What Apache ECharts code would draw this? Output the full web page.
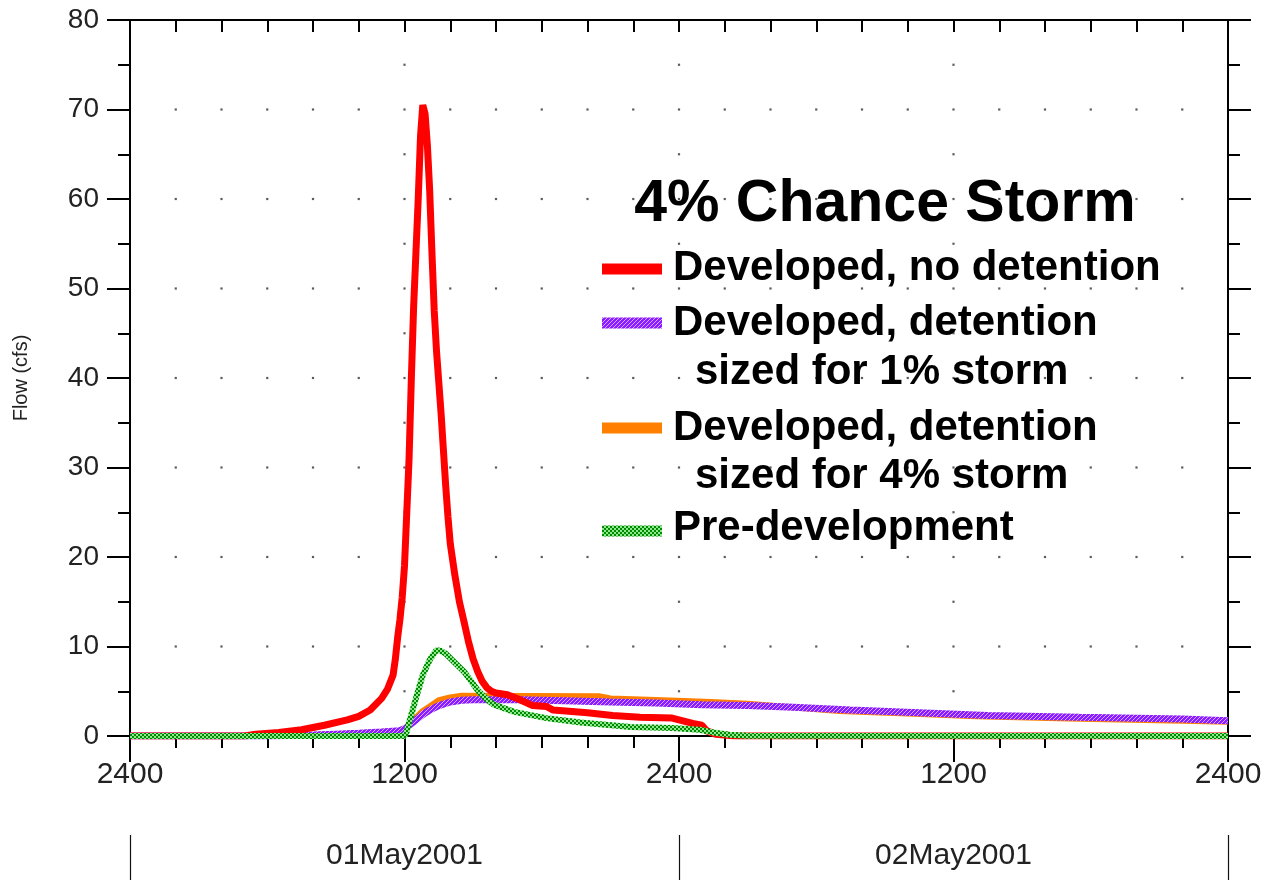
<!DOCTYPE html>
<html><head><meta charset="utf-8">
<script src="https://cdn.jsdelivr.net/npm/echarts@6/dist/echarts.min.js"></script>
<style>html,body{margin:0;padding:0;background:#fff}#c{width:1274px;height:880px}</style>
</head><body><div id="c"></div>
<script>
// ---------------- DATA ----------------
const chartTitle = '4% Chance Storm';
const yAxisName = 'Flow (cfs)';
const xTickLabels = ['2400', '1200', '2400', '1200', '2400'];   // at hours 0,12,24,36,48
const dateLabels = ['01May2001', '02May2001'];                   // centred on hours 12 and 36
const seriesNames = [
  'Developed, no detention',
  'Developed, detention sized for 1% storm',
  'Developed, detention sized for 4% storm',
  'Pre-development'
];
const legendLines = [
  ['Developed, no detention'],
  ['Developed, detention', 'sized for 1% storm'],
  ['Developed, detention', 'sized for 4% storm'],
  ['Pre-development']
];
// [hour since 2400 30Apr2001, flow cfs]
const redData = [
  [0,0],[5,0],[5.5,0.2],[6.5,0.4],[7.5,0.7],[8.5,1.2],[9.5,1.8],[10,2.2],[10.5,2.9],[11,4.2],
  [11.25,5.2],[11.5,6.8],[11.6,8.6],[11.7,11],[11.8,13],[11.9,15.5],[12,19],[12.1,25],[12.2,31],
  [12.3,40],[12.4,48],[12.5,54],[12.6,60],[12.7,67],[12.8,70.5],[12.9,69.5],[13,66],[13.1,61],
  [13.2,54],[13.3,47.5],[13.4,43],[13.5,39.5],[13.6,36],[13.7,32],[13.8,28],[13.9,24.5],[14,21.5],
  [14.2,18],[14.4,15],[14.6,12.8],[14.8,10.5],[15,8.6],[15.2,7.2],[15.4,6.1],[15.6,5.4],[15.8,5.0],
  [16,4.8],[16.5,4.6],[17,4.1],[17.6,3.4],[18.2,3.3],[18.5,2.9],[20,2.6],[21.1,2.3],[22.3,2.1],
  [23.7,2.0],[24,1.8],[24.6,1.4],[25,1.2],[25.2,0.6],[25.6,0.2],[26.5,0],[48,0]
];
const purpleData = [
  [0,0],[6,0],[8,0.1],[9,0.2],[10,0.3],[11,0.45],[11.8,0.6],[12,0.8],[12.4,1.6],[12.8,2.4],
  [13.1,2.9],[13.5,3.4],[14,3.8],[14.5,4.0],[15,4.05],[17,4.05],[19,3.95],[21,3.8],[23,3.7],
  [25,3.5],[27,3.4],[29,3.2],[31.5,2.9],[34.5,2.6],[37.5,2.3],[41.5,2.1],[46,1.9],[48,1.7]
];
const orangeData = [
  [0,0],[6,0],[8,0.1],[9,0.2],[10,0.3],[11,0.45],[11.8,0.6],[12,0.8],[12.4,1.8],[12.8,2.8],
  [13.1,3.3],[13.5,4.0],[14,4.3],[14.5,4.5],[20.5,4.45],[21,4.2],[23.3,4.0],[25.4,3.8],[27,3.6],
  [28.5,3.3],[31,2.8],[34,2.5],[37,2.2],[41,1.95],[46,1.7],[48,1.6]
];
const greenData = [
  [0,0],[12,0],[12.1,0.5],[12.2,1.5],[12.4,3.3],[12.6,5.1],[12.8,6.8],[13.1,8.5],[13.4,9.6],
  [13.6,9.5],[13.8,9.2],[14.2,8.2],[14.6,7.2],[15.2,5.1],[15.6,4.1],[15.9,3.5],[16.8,2.7],
  [18.2,2.0],[19.7,1.5],[21.9,1.0],[23.7,0.9],[24.9,0.7],[25.5,0.4],[26.2,0.15],[27,0.02],[48,0]
];

// ---------------- STYLE ----------------
const FONT = '"Liberation Sans", Arial, sans-serif';
function makePattern(kind) {
  const c = document.createElement('canvas');
  c.width = 4; c.height = 4;
  const g = c.getContext('2d');
  for (let x = 0; x < 4; x++) for (let y = 0; y < 4; y++) {
    if (kind === 'hatch') g.fillStyle = ((x + y) % 4 === 0) ? '#d4a8ff' : '#8a1cff';
    else g.fillStyle = (((x >> 1) + (y >> 1)) % 2 === 0) ? '#008a00' : '#8fe88f';
    g.fillRect(x, y, 1, 1);
  }
  return { image: c, repeat: 'repeat' };
}
const purplePat = makePattern('hatch');
const greenPat = makePattern('check');
const sampleFill = ['#ff0000', purplePat, '#ff8000', greenPat];

// dot grid derived from the axis tick intervals
const gridDots = [];
for (let h = 2; h < 48; h += 2) for (let v = 10; v < 80; v += 10) gridDots.push([h, v]);
for (let h = 12; h < 48; h += 12) for (let v = 5; v < 80; v += 10) gridDots.push([h, v]);

const chart = echarts.init(document.getElementById('c'), null, { renderer: 'canvas' });

const axisLineStyle = { color: '#000', width: 2 };
const legendGraphics = [];
legendGraphics.push({
  type: 'text', x: 885, y: 205, z: 100,
  style: { text: chartTitle, fontSize: 59, fontWeight: 'bold', fontFamily: FONT, fill: '#000', align: 'center', verticalAlign: 'middle' }
});
const rowY = [[268], [323, 372], [428, 476], [528]];
const sampleY = [269, 323, 428, 531];
legendLines.forEach((lines, i) => {
  legendGraphics.push({
    type: 'rect', z: 100,
    shape: { x: 602, y: sampleY[i] - 5.5, width: 60, height: 11 },
    style: { fill: sampleFill[i] }
  });
  lines.forEach((t, j) => {
    legendGraphics.push({
      type: 'text', x: j === 0 ? 673 : 695, y: rowY[i][j], z: 100,
      style: { text: t, fontSize: 42, fontWeight: 'bold', fontFamily: FONT, fill: '#000', align: 'left', verticalAlign: 'middle' }
    });
  });
});

const option = {
  animation: false,
  backgroundColor: '#ffffff',
  grid: { left: 130, right: 46, top: 20, bottom: 144, containLabel: false, outerBoundsMode: 'none' },
  xAxis: [
    {
      type: 'value', min: 0, max: 48, interval: 12, position: 'bottom',
      axisLine: { show: true, onZero: false, lineStyle: axisLineStyle },
      axisTick: { show: true, length: 26, lineStyle: axisLineStyle },
      minorTick: { show: true, splitNumber: 6, length: 12, lineStyle: axisLineStyle },
      axisLabel: {
        fontSize: 30, color: '#222', fontFamily: FONT, margin: 24,
        formatter: v => xTickLabels[Math.round(v / 12)]
      },
      splitLine: { show: false }
    },
    {
      type: 'value', min: 0, max: 48, interval: 2, position: 'top',
      axisLine: { show: true, onZero: false, lineStyle: axisLineStyle },
      axisTick: { show: true, inside: true, length: 12, lineStyle: axisLineStyle },
      axisLabel: { show: false },
      splitLine: { show: false }
    },
    {
      type: 'value', min: 0, max: 48, interval: 24, position: 'bottom', offset: 99,
      axisLine: { show: true, onZero: false, lineStyle: { color: 'rgba(0,0,0,0)', width: 0 } },
      axisTick: { show: true, inside: false, length: 45, lineStyle: { color: '#111', width: 1.2 } },
      axisLabel: {
        fontSize: 30, color: '#222', fontFamily: FONT, margin: 6, customValues: [12, 36],
        formatter: v => dateLabels[Math.round((v - 12) / 24)]
      },
      splitLine: { show: false }
    }
  ],
  yAxis: [
    {
      type: 'value', min: 0, max: 80, interval: 10, position: 'left',
      name: yAxisName, nameLocation: 'middle', nameGap: 99,
      nameTextStyle: { fontSize: 20, color: '#222', fontFamily: FONT },
      axisLine: { show: true, onZero: false, lineStyle: axisLineStyle },
      axisTick: { show: true, length: 23, lineStyle: axisLineStyle },
      minorTick: { show: true, splitNumber: 2, length: 12, lineStyle: axisLineStyle },
      axisLabel: { fontSize: 28, color: '#222', fontFamily: FONT, margin: 31 },
      splitLine: { show: false }
    },
    {
      type: 'value', min: 0, max: 80, interval: 10, position: 'right',
      axisLine: { show: true, onZero: false, lineStyle: axisLineStyle },
      axisTick: { show: true, length: 23, lineStyle: axisLineStyle },
      minorTick: { show: true, splitNumber: 2, length: 12, lineStyle: axisLineStyle },
      axisLabel: { show: false },
      splitLine: { show: false }
    }
  ],
  graphic: legendGraphics,
  series: [
    {
      name: 'grid dots', type: 'scatter', data: gridDots, symbol: 'rect', symbolSize: 2.2,
      itemStyle: { color: '#333' }, silent: true, z: 1
    },
    {
      name: seriesNames[2], type: 'line', data: orangeData, showSymbol: false, z: 2,
      lineStyle: { color: '#ff8000', width: 6 }, itemStyle: { color: '#ff8000' }
    },
    {
      name: seriesNames[1], type: 'line', data: purpleData, showSymbol: false, z: 3,
      lineStyle: { color: purplePat, width: 7 }, itemStyle: { color: '#8a1cff' }
    },
    {
      name: seriesNames[0], type: 'line', data: redData, showSymbol: false, z: 4,
      lineStyle: { color: '#ff0000', width: 7 }, itemStyle: { color: '#ff0000' }
    },
    {
      name: seriesNames[3], type: 'line', data: greenData, showSymbol: false, z: 5,
      lineStyle: { color: greenPat, width: 6 }, itemStyle: { color: '#008a00' }
    }
  ]
};
chart.setOption(option);
</script>
</body></html>
